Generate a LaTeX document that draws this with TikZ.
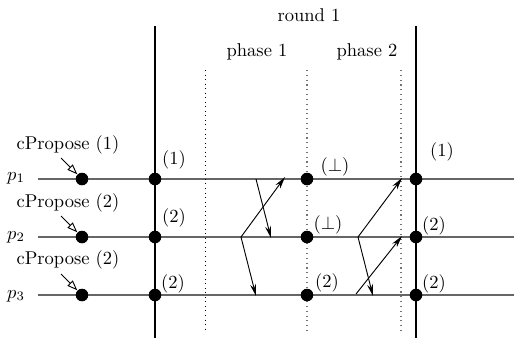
\documentclass[tikz,border=0pt]{standalone}
\usetikzlibrary{arrows.meta}
\begin{document}
\begin{tikzpicture}[x=0.54pt,y=-0.54pt,
  proc/.style={draw=black!60, line width=1.0pt},
  bound/.style={draw=black, line width=0.6pt},
  phaseline/.style={draw=black!55, dotted, line width=0.6pt},
  dot/.style={circle, fill=black, inner sep=0pt, minimum size=6.8pt},
  msg/.style={draw=black, line width=0.5pt, -{Stealth[length=6.5pt,width=3.2pt]}},
  hint/.style={draw=black, line width=0.5pt, -{Triangle[open,length=5.5pt,width=4pt]}},
  lbl/.style={inner sep=0pt}]
\useasboundingbox (0,0) rectangle (514,338);
% process lines
\coordinate (s1) at (38,179); \coordinate (e1) at (514,179);
\coordinate (s2) at (38,237); \coordinate (e2) at (514,237);
\coordinate (s3) at (38,295); \coordinate (e3) at (514,295);
\draw[proc] (s1) -- (e1);
\draw[proc] (s2) -- (e2);
\draw[proc] (s3) -- (e3);
% round boundaries
\coordinate (b1t) at (155,26); \coordinate (b1b) at (155,338);
\coordinate (b2t) at (416,26); \coordinate (b2b) at (416,338);
\draw[bound] (b1t) -- (b1b);
\draw[bound] (b2t) -- (b2b);
% phase lines
\coordinate (d1t) at (205,70); \coordinate (d1b) at (205,331);
\coordinate (d2t) at (307,70); \coordinate (d2b) at (307,331);
\coordinate (d3t) at (401,70); \coordinate (d3b) at (401,331);
\draw[draw=black, dotted, line width=0.45pt] (d1t) -- (d1b);
\draw[phaseline] (d2t) -- (d2b);
\draw[phaseline] (d3t) -- (d3b);
% labels
\node[lbl] (round) at (309,15) {round 1};
\node[lbl] (ph1) at (257,52) {phase 1};
\node[lbl] (ph2) at (367,52) {phase 2};
\node[lbl] (p1) at (16,178) {$p_1$};
\node[lbl] (p2) at (16,237) {$p_2$};
\node[lbl] (p3) at (16,296) {$p_3$};
% dots
\foreach \n/\y in {1/179,2/237,3/295}{
  \node[dot] (a\n) at (82,\y) {};
  \node[dot] (b\n) at (155,\y) {};
  \node[dot] (c\n) at (307,\y) {};
  \node[dot] (d\n) at (416,\y) {};
}
% cPropose
\node[lbl] (cp1) at (68,145) {cPropose (1)};
\node[lbl] (cp2) at (68,203) {cPropose (2)};
\node[lbl] (cp3) at (68,260) {cPropose (2)};
\coordinate (h1) at (61,158); \coordinate (h2) at (61,216); \coordinate (h3) at (61,274);
\draw[hint] (h1) -- (a1.north west);
\draw[hint] (h2) -- (a2.north west);
\draw[hint] (h3) -- (a3.north west);
% value labels
\node[lbl] (v1) at (174,160) {(1)};
\node[lbl] (v2) at (174,218) {(2)};
\node[lbl] (v3) at (173,284) {(2)};
\node[lbl] (w1) at (335,167) {($\perp$)};
\node[lbl] (w2) at (328,225) {($\perp$)};
\node[lbl] (w3) at (327,283) {(2)};
\node[lbl] (x1) at (442,152) {(1)};
\node[lbl] (x2) at (434,226) {(2)};
\node[lbl] (x3) at (434,284) {(2)};
% phase 1 messages
\coordinate (m1a) at (241,237); \coordinate (m1b) at (285,177);
\coordinate (m2a) at (256,179); \coordinate (m2b) at (271,238);
\coordinate (m3b) at (256,296);
\draw[msg] (m1a) -- (m1b);
\draw[msg] (m2a) -- (m2b);
\draw[msg] (m1a) -- (m3b);
% phase 2 messages
\coordinate (n1a) at (358,237); \coordinate (n1b) at (402,178);
\coordinate (n2b) at (373,296);
\coordinate (n3a) at (356,294); \coordinate (n3b) at (402,236);
\draw[msg] (n1a) -- (n1b);
\draw[msg] (n1a) -- (n2b);
\draw[msg] (n3a) -- (n3b);
\end{tikzpicture}
\end{document}
